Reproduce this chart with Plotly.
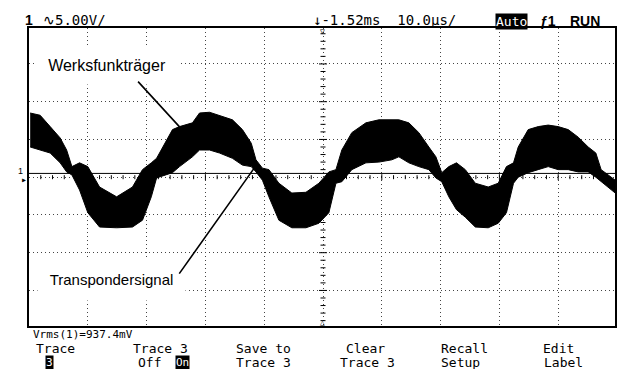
import plotly.graph_objects as go

# ---------------- data ----------------
# time relative to screen centre in microseconds (10 us/div), voltage in V (5 V/div)
time_us = [-49.8, -48.1, -46.4, -44.7, -43.6, -42.7, -41.4, -40.0, -38.0, -35.1,
           -32.4, -30.7, -29.2, -28.3, -25.6, -24.4, -22.2, -21.0, -19.3, -17.6,
           -15.4, -13.7, -12.2, -11.4, -10.3, -9.2, -7.5, -5.3, -2.9, -0.7,
           1.0, 2.2, 3.2, 4.9, 7.3, 9.5, 11.7, 12.9, 14.6, 16.3,
           18.0, 19.2, 20.2, 21.4, 22.7, 24.2, 25.9, 28.1, 29.8, 31.2,
           32.4, 33.2, 34.9, 36.6, 38.3, 40.0, 41.7, 43.4, 45.1, 46.4,
           47.3, 48.5, 49.7]
upper_V = [8.5, 8.2, 6.7, 5.2, 3.6, 1.4, 1.9, 1.4, -1.3, -2.6,
           -1.3, 1.0, 1.9, 2.5, 6.3, 6.7, 7.2, 8.5, 8.6, 8.2,
           7.6, 6.3, 4.5, 2.3, 1.2, 1.0, -0.8, -2.1, -2.0, -0.8,
           0.7, 1.0, 3.6, 5.9, 7.2, 7.6, 7.6, 7.6, 7.2, 5.9,
           4.0, 2.7, 0.6, 1.4, 1.9, 1.0, -0.8, -1.3, -0.8, 1.4,
           1.9, 4.0, 6.3, 6.7, 6.9, 6.7, 6.3, 5.3, 4.0, 3.2,
           1.0, 0.3, -0.4]
lower_V = [4.0, 3.6, 3.2, 1.9, 0.7, 0.3, -1.7, -4.7, -6.6, -6.7,
           -6.6, -5.7, -2.6, -0.1, 0.6, 1.4, 2.7, 3.6, 3.6, 3.2,
           2.5, 1.6, 1.4, 0.7, -0.4, -2.6, -5.7, -6.7, -6.7, -6.1,
           -4.7, -0.8, -0.6, 1.0, 1.9, 2.0, 2.3, 2.7, 1.9, 1.4,
           1.0, -0.1, -0.6, -2.6, -4.3, -5.3, -6.6, -6.7, -6.1, -4.7,
           -0.8, 0.0, 0.6, 1.0, 1.4, 1.0, 1.0, 0.7, 0.7, 0.0,
           -0.6, -1.4, -2.1]
trace3_level_V = 0.5

x_range = [-50.0, 49.66]
y_range = [-19.71, 19.76]

header_left = "∿5.00V/"
header_mid = "↓-1.52ms  10.0µs/"
status_line = "Vrms(1)=937.4mV"
softkeys_top = ["Trace", "Trace 3", "Save to", "Clear", "Recall", "Edit"]
softkeys_bottom = ["", "Off", "Trace 3", "Trace 3", "Setup", "Label"]

# ---------------- figure geometry ----------------
W, H = 617, 369
ML, MR, MT, MB = 29, 0, 28, 43


def px(x):
    return (x - ML) / (W - ML - MR)


def py(y):
    return (H - MB - y) / (H - MT - MB)


fig = go.Figure()
fig.add_trace(go.Scatter(x=[x_range[0], x_range[1]], y=[trace3_level_V, trace3_level_V],
                         mode="lines", line=dict(color="black", width=1), hoverinfo="skip"))
fig.add_trace(go.Scatter(x=time_us, y=upper_V, mode="lines",
                         line=dict(color="black", width=1), hoverinfo="skip"))
fig.add_trace(go.Scatter(x=time_us, y=lower_V, mode="lines",
                         line=dict(color="black", width=1), fill="tonexty",
                         fillcolor="black", hoverinfo="skip"))

axis_common = dict(showgrid=True, gridcolor="#444", griddash="1px,3px", gridwidth=1,
                   zeroline=False, showticklabels=False, ticks="", showline=True,
                   linecolor="black", linewidth=1.5, mirror=True, fixedrange=True)

fig.update_layout(
    width=W, height=H, margin=dict(l=ML, r=MR, t=MT, b=MB),
    paper_bgcolor="white", plot_bgcolor="white", showlegend=False,
    xaxis=dict(range=x_range, tick0=0, dtick=10, **axis_common),
    yaxis=dict(range=y_range, tick0=0, dtick=5, **axis_common),
)

# centre-axis minor ticks
shapes = []
for v in range(-19, 20):
    if v == 0:
        continue
    half = 4 if v % 5 == 0 else 2.5
    shapes.append(dict(type="line", xref="x", yref="y", xsizemode="pixel", xanchor=0,
                       x0=-half, x1=half, y0=v, y1=v, line=dict(color="black", width=1)))
for t in range(-48, 50, 2):
    if t == 0:
        continue
    half = 3 if t % 10 == 0 else 2
    shapes.append(dict(type="line", xref="x", yref="y", ysizemode="pixel", yanchor=0,
                       y0=-half, y1=half, x0=t, x1=t, line=dict(color="black", width=1)))
fig.update_layout(shapes=shapes)

mono = "DejaVu Sans Mono"
ann = []


def text(x, y, s, size=14, family=mono, color="black", bg=None, bold=False, **kw):
    if bold:
        s = "<b>" + s + "</b>"
    d = dict(x=px(x), y=py(y), xref="paper", yref="paper", text=s, showarrow=False,
             font=dict(family=family, size=size, color=color), xanchor="center",
             yanchor="middle")
    if bg:
        d["bgcolor"] = bg
        d["borderpad"] = 0
    d.update(kw)
    ann.append(d)


# header
text(29, 20, "1", size=14, family="Liberation Sans", bold=True)
text(75, 20, header_left, size=14)
text(386, 20, header_mid, size=14)
text(513, 21, "Auto", size=13, color="white", bg="black")
text(550, 21, "ƒ1", size=14, family="Liberation Sans", bold=True)
text(587, 21, "RUN", size=14, family="Liberation Sans", bold=True)

# trigger markers
text(324, 31, "▽", size=8)
text(324, 322, "△", size=8)
# ground marker channel 1
text(20, 171, "1", size=9, family="Liberation Sans")
text(24, 180, "▸", size=10)

# status and softkeys
text(83, 334, status_line, size=11)
top_cx = [56, 161, 264, 367, 466, 560]
bot_cx = [50, 150, 264, 369, 462, 565]
for cx, s in zip(top_cx, softkeys_top):
    text(cx, 348, s, size=13)
for cx, s in zip(bot_cx, softkeys_bottom):
    if s:
        text(cx, 362, s, size=13)
text(50, 362, "3", size=11, color="white", bg="black")
text(183, 362, "On", size=11, color="white", bg="black")

# callouts
text(107, 65, "Werksfunkträger", size=16, family="Liberation Sans", bg="white",
     width=144, height=37)
text(112, 279, "Transpondersignal", size=15, family="Liberation Sans", bg="white",
     width=147, height=42)
ann.append(dict(x=-24.2, y=6.5, xref="x", yref="y", text="", showarrow=True,
                arrowhead=0, arrowwidth=1.6, arrowcolor="black", ax=-44, ay=-48,
                axref="pixel", ayref="pixel", standoff=0, startstandoff=0))
ann.append(dict(x=-11.7, y=1.2, xref="x", yref="y", text="", showarrow=True,
                arrowhead=0, arrowwidth=1.6, arrowcolor="black", ax=-76, ay=107,
                axref="pixel", ayref="pixel", standoff=0, startstandoff=0))
fig.update_layout(annotations=ann)

fig.write_html("out.html", config={"displayModeBar": False},
               post_script="document.body.style.margin='0';document.body.style.overflow='hidden';")
